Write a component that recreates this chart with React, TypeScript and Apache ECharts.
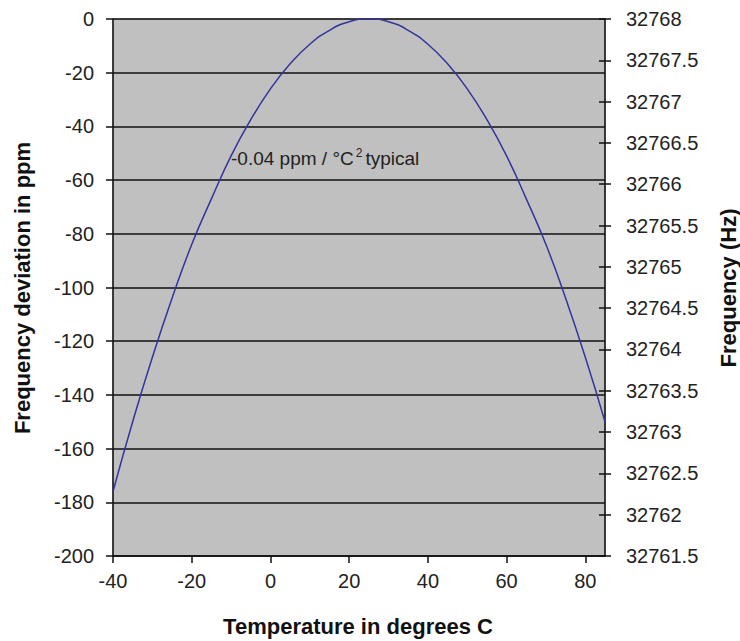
import React, { useEffect, useRef } from "react";
import * as echarts from "echarts";

const temps = [-40, -35, -30, -25, -20, -15, -10, -5, 0, 5, 10, 15, 20, 25, 30, 35, 40, 45, 50, 55, 60, 65, 70, 75, 80, 85];
const ppm = [-176, -150, -126, -104, -84, -67, -51, -37.5, -26, -16.7, -9.4, -4.2, -1, 0, -1, -4.2, -9.4, -16.7, -26, -37.5, -51, -67, -84, -104, -126, -150];
const xTickValues = [-40, -20, 0, 20, 40, 60, 80];

const FONT = "Liberation Sans, Arial, sans-serif";
const TICK_FS = 20;

export default function App() {
  const ref = useRef<HTMLDivElement>(null);
  useEffect(() => {
    if (!ref.current) return;
    const chart = echarts.init(ref.current, undefined, { renderer: "svg" });
    const data = temps.map((t, i) => [t, ppm[i]]);
    chart.setOption({
      animation: false,
      backgroundColor: "#ffffff",
      grid: {
        left: 113,
        right: 135,
        top: 19,
        bottom: 85,
        show: true,
        backgroundColor: "#c0c0c0",
        borderColor: "#888",
        borderWidth: 1,
      },
      xAxis: {
        type: "value",
        min: -40,
        max: 85,
        interval: 20,
        axisLine: { show: true, onZero: false, lineStyle: { color: "#111", width: 1.5 } },
        axisTick: { show: true, length: 7, lineStyle: { color: "#111", width: 1.5 }, customValues: xTickValues },
        axisLabel: { color: "#222", fontSize: TICK_FS, fontFamily: FONT, margin: 15, customValues: xTickValues },
        splitLine: { show: false },
      },
      yAxis: [
        {
          type: "value",
          min: -200,
          max: 0,
          interval: 20,
          position: "left",
          axisLine: { show: true, onZero: false, lineStyle: { color: "#111", width: 1.5 } },
          axisTick: { show: true, length: 7, lineStyle: { color: "#111", width: 1.5 } },
          axisLabel: { color: "#222", fontSize: TICK_FS, fontFamily: FONT, margin: 19 },
          splitLine: { show: true, lineStyle: { color: "#111", width: 1.5 } },
        },
        {
          type: "value",
          min: 32761.5,
          max: 32768,
          interval: 0.5,
          position: "right",
          axisLine: { show: true, onZero: false, lineStyle: { color: "#111", width: 1.5 } },
          axisTick: { show: true, length: 6, lineStyle: { color: "#111", width: 1.5 } },
          axisLabel: {
            color: "#222",
            fontSize: TICK_FS,
            fontFamily: FONT,
            margin: 21,
            formatter: (v: number) => String(v),
          },
          splitLine: { show: false },
        },
        {
          type: "value",
          min: 32761.5,
          max: 32768,
          interval: 0.5,
          position: "right",
          axisLine: { show: false, onZero: false },
          axisTick: { show: true, inside: true, length: 6, lineStyle: { color: "#111", width: 1.5 } },
          axisLabel: { show: false },
          splitLine: { show: false },
        },
      ],
      series: [
        {
          type: "line",
          data,
          smooth: true,
          showSymbol: false,
          yAxisIndex: 0,
          lineStyle: { color: "#34349c", width: 1.5 },
        },
      ],
      graphic: [
        {
          type: "text",
          left: 231,
          top: 147,
          style: {
            text: "{a|-0.04 ppm / °C}{s|2}{a|typical}",
            rich: {
              a: { fontSize: 19, fontFamily: FONT, fill: "#222" },
              s: { fontSize: 12, fontFamily: FONT, fill: "#222", padding: [0, 3, 10, 2] },
            },
          },
        },
        {
          type: "text",
          x: 358,
          y: 626,
          style: {
            text: "Temperature in degrees C",
            font: `bold 22px ${FONT}`,
            fill: "#111",
            align: "center",
            verticalAlign: "middle",
          },
        },
        {
          type: "text",
          x: 22,
          y: 288,
          rotation: Math.PI / 2,
          style: {
            text: "Frequency deviation in ppm",
            font: `bold 22px ${FONT}`,
            fill: "#111",
            align: "center",
            verticalAlign: "middle",
          },
        },
        {
          type: "text",
          x: 728,
          y: 288,
          rotation: Math.PI / 2,
          style: {
            text: "Frequency (Hz)",
            font: `bold 22px ${FONT}`,
            fill: "#111",
            align: "center",
            verticalAlign: "middle",
          },
        },
      ],
    });
    return () => chart.dispose();
  }, []);
  return <div ref={ref} style={{ position: "absolute", left: 0, top: 0, width: 740, height: 641 }} />;
}
